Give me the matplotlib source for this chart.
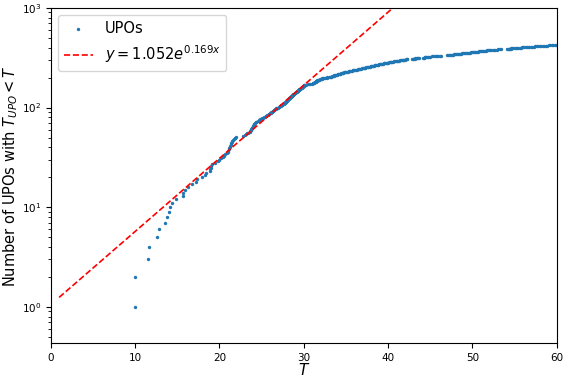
import numpy as np
import matplotlib.pyplot as plt

# periods of the UPOs (sorted)
periods_short = [10.00, 10.02, 11.48, 11.67, 12.66, 12.80, 13.50, 13.74, 13.98, 14.10,
                 14.34, 14.90, 15.69, 15.73, 15.97, 16.28, 16.80, 17.18, 17.30, 17.98,
                 18.25, 18.40, 18.85, 18.93, 18.98, 19.05, 19.10, 19.45, 19.78, 19.95,
                 20.20, 20.38, 20.55, 20.72, 20.85, 21.00]

periods_mid = [21.05, 21.10, 21.16, 21.22, 21.28, 21.33, 21.38, 21.42, 21.47, 21.55,
               21.63, 21.72, 21.80, 21.90, 21.98, 22.82, 23.00, 23.12, 23.31, 23.44,
               23.60, 23.65, 23.70, 23.73, 23.79, 23.84, 23.88, 23.94, 23.97, 24.02,
               24.06, 24.11, 24.16, 24.20, 24.31, 24.40, 24.53, 24.66, 24.75, 24.85,
               24.98, 25.07, 25.19, 25.30, 25.40, 25.47, 25.58, 25.66, 25.73, 25.84,
               25.91, 26.00, 26.06, 26.15, 26.21, 26.30, 26.36, 26.42, 26.50, 26.59,
               26.66, 26.77, 26.84, 26.92, 27.02, 27.10, 27.16, 27.26, 27.32, 27.39,
               27.48, 27.55, 27.61, 27.70, 27.73, 27.78, 27.83, 27.86, 27.89, 27.95,
               27.98, 28.01, 28.06, 28.10, 28.13, 28.18, 28.24, 28.27, 28.30, 28.36,
               28.41, 28.44, 28.48, 28.53, 28.58, 28.61, 28.65, 28.70, 28.75, 28.78,
               28.83, 28.88, 28.91, 28.96, 29.01, 29.04, 29.09, 29.14, 29.17, 29.22,
               29.27, 29.30, 29.35, 29.38, 29.43, 29.48, 29.51, 29.56, 29.61, 29.64,
               29.68, 29.73, 29.78, 29.81, 29.85, 29.90, 29.93, 29.96, 29.99, 30.03,
               30.05, 30.08, 30.11]

periods_long = [30.27, 30.46, 30.61, 30.79, 30.94, 31.10, 31.15, 31.18, 31.22, 31.28,
                31.31, 31.35, 31.41, 31.44, 31.48, 31.54, 31.57, 31.61, 31.66, 31.70,
                31.77, 31.86, 31.92, 32.01, 32.07, 32.16, 32.22, 32.30, 32.44, 32.55,
                32.70, 32.81, 32.96, 33.07, 33.20, 33.28, 33.34, 33.43, 33.49, 33.58,
                33.64, 33.73, 33.79, 33.88, 33.94, 34.03, 34.09, 34.18, 34.24, 34.33,
                34.39, 34.48, 34.54, 34.63, 34.69, 34.78, 34.84, 34.93, 35.00, 35.11,
                35.19, 35.31, 35.40, 35.49, 35.62, 35.70, 35.81, 35.88, 36.01, 36.10,
                36.19, 36.32, 36.40, 36.51, 36.58, 36.72, 36.80, 36.89, 37.00, 37.09,
                37.16, 37.26, 37.32, 37.43, 37.49, 37.59, 37.66, 37.76, 37.82, 37.93,
                37.99, 38.09, 38.16, 38.26, 38.32, 38.43, 38.49, 38.59, 38.66, 38.76,
                38.82, 38.93, 39.00, 39.10, 39.17, 39.29, 39.36, 39.47, 39.54, 39.66,
                39.73, 39.84, 39.91, 40.03, 40.10, 40.20, 40.31, 40.39, 40.52, 40.60,
                40.69, 40.81, 40.90, 41.02, 41.09, 41.21, 41.30, 41.38, 41.51, 41.59,
                41.71, 41.79, 41.90, 42.02, 42.09, 42.21, 42.30, 42.80, 42.92, 43.01,
                43.15, 43.24, 43.37, 43.46, 43.60, 43.70, 44.10, 44.20, 44.26, 44.37,
                44.43, 44.54, 44.60, 44.70, 44.87, 45.01, 45.19, 45.33, 45.51, 45.65,
                45.83, 45.97, 46.15, 46.30, 47.00, 47.13, 47.22, 47.36, 47.45, 47.59,
                47.68, 47.82, 47.91, 48.05, 48.14, 48.28, 48.37, 48.51, 48.60, 48.74,
                48.83, 48.97, 49.06, 49.20, 49.31, 49.45, 49.55, 49.69, 49.79, 49.93,
                50.03, 50.17, 50.27, 50.41, 50.51, 50.65, 50.75, 50.89, 50.99, 51.13,
                51.23, 51.37, 51.47, 51.61, 51.71, 51.85, 51.95, 52.09, 52.20, 52.38,
                52.53, 52.72, 52.88, 53.07, 53.22, 53.40, 54.10, 54.18, 54.28, 54.35,
                54.45, 54.52, 54.62, 54.70, 54.84, 55.01, 55.13, 55.30, 55.42, 55.59,
                55.71, 55.88, 56.00, 56.17, 56.29, 56.46, 56.58, 56.75, 56.90, 57.07,
                57.27, 57.43, 57.63, 57.79, 57.99, 58.15, 58.35, 58.51, 58.71, 58.87,
                59.07, 59.23, 59.43, 59.59, 59.79, 59.95]

# exponential fit parameters
fit_a = 1.052
fit_b = 0.169

periods = np.array(periods_short + periods_mid + periods_long)
counts = np.arange(1, len(periods) + 1)

x_fit = np.linspace(1, 60, 200)
y_fit = fit_a * np.exp(fit_b * x_fit)

fig = plt.figure(figsize=(5.63, 3.77), dpi=100)
ax = fig.add_axes([0.090, 0.089, 0.899, 0.890])

ax.scatter(periods, counts, s=2, color='#1f77b4', label='UPOs')
ax.plot(x_fit, y_fit, 'r--', lw=1.2, label=r'$y = 1.052e^{0.169x}$')

ax.set_yscale('log')
ax.set_xlim(0, 60)
ax.set_ylim(0.43, 1000)
ax.tick_params(labelsize=7.5)

ax.set_xlabel('$T$', fontsize=11, labelpad=-1)
ax.set_ylabel('Number of UPOs with $T_{UPO} < T$', fontsize=10.5, labelpad=1)
ax.legend(loc='upper left', fontsize=10.5)

fig.savefig('out.png', dpi=100)
